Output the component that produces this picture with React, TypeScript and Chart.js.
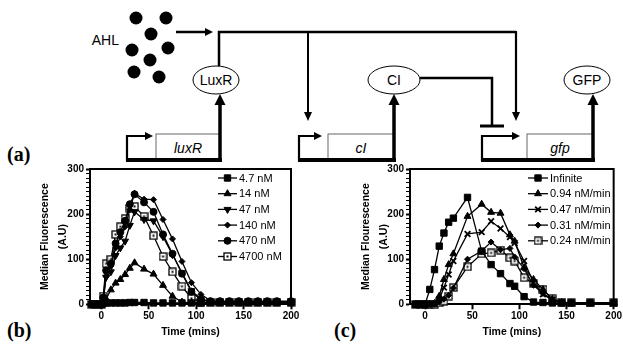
import React, { useEffect, useRef } from 'react';
import { Chart, registerables } from 'chart.js';
import { drawPoint } from 'chart.js/helpers';

Chart.register(...registerables);

// ---------- Data: panel (b) AHL concentration ----------
const timesB = [-10, -5, 0, 2, 5, 10, 15, 20, 25, 30, 35, 45, 55, 65, 75, 85, 95, 105, 115, 125, 135, 145, 155, 165, 175, 185, 200];
const labelsB = ['4.7 nM', '14 nM', '47 nM', '140 nM', '470 nM', '4700 nM'];
const b4_7 = [0, 0, 0, 2, 3, 3, 3, 3, 3, 4, 4, 4, 3, 3, 3, 3, 3, 3, 4, 4, 4, 4, 4, 4, 4, 4, 4];
const b14 = [0, 0, 0, 5, 12, 32, 47, 55, 66, 80, 92, 78, 67, 42, 18, 5, 3, 3, 3, 3, 3, 3, 3, 3, 3, 3, 3];
const b47 = [0, 0, 0, 10, 60, 72, 108, 125, 140, 175, 205, 188, 185, 150, 110, 70, 30, 12, 6, 5, 5, 5, 5, 5, 5, 5, 5];
const b140 = [0, 0, 0, 12, 62, 85, 125, 150, 172, 210, 246, 233, 232, 188, 145, 95, 48, 22, 8, 6, 6, 6, 6, 6, 6, 6, 6];
const b470 = [0, 0, 0, 15, 75, 90, 135, 160, 185, 222, 244, 226, 205, 155, 112, 68, 28, 10, 7, 7, 7, 7, 7, 7, 7, 7, 7];
const b4700 = [0, 0, 0, 18, 90, 100, 155, 172, 190, 213, 217, 195, 152, 106, 72, 40, 13, 5, 5, 5, 5, 5, 5, 5, 5, 5, 5];

// ---------- Data: panel (c) AHL ramp rate ----------
const timesC = [-10, -5, 0, 5, 10, 15, 20, 25, 30, 45, 60, 70, 80, 90, 95, 105, 115, 125, 135, 145, 155, 175, 200];
const labelsC = ['Infinite', '0.94 nM/min', '0.47 nM/min', '0.31 nM/min', '0.24 nM/min'];
const cInf = [0, 0, 0, 33, 77, 129, 158, 182, 191, 237, 118, 88, 68, 46, 40, 17, 5, 4, 3, 3, 3, 3, 3];
const c094 = [0, 0, 0, 0, 2, 18, 55, 88, 112, 195, 222, 204, 202, 154, 140, 81, 55, 33, 11, 4, 3, 3, 3];
const c047 = [0, 0, 0, 0, 1, 11, 37, 66, 96, 156, 160, 184, 168, 149, 136, 96, 48, 22, 10, 4, 3, 3, 3];
const c031 = [0, 0, 0, 0, 0, 5, 12, 20, 36, 100, 118, 138, 121, 124, 105, 79, 42, 24, 11, 4, 3, 3, 3];
const c024 = [0, 0, 0, 0, 0, 3, 7, 18, 37, 83, 112, 114, 120, 103, 96, 59, 46, 33, 12, 5, 3, 3, 3];

// axis ticks
const yMax = 300;
const yMajor = 100;
const yMinor = 10;
const xStep = 50;

const SANS = '"Liberation Sans", Arial, sans-serif';
const SERIF = '"Liberation Serif", "Times New Roman", serif';

function openSquare(): HTMLCanvasElement {
  const c = document.createElement('canvas');
  c.width = 9; c.height = 9;
  const g = c.getContext('2d')!;
  g.fillStyle = '#fff';
  g.fillRect(1, 1, 7, 7);
  g.strokeStyle = '#000';
  g.lineWidth = 1.3;
  g.strokeRect(1, 1, 7, 7);
  g.fillStyle = '#000';
  g.fillRect(3.5, 3.5, 2, 2);
  return c;
}

type Marker = { style: any; radius: number; rotation?: number; fill: string; bw: number };

function markersB(): Marker[] {
  const sq = openSquare();
  return [
    { style: 'rect', radius: 4.5, fill: '#000', bw: 1 },
    { style: 'triangle', radius: 4, fill: '#000', bw: 1 },
    { style: 'triangle', radius: 4, rotation: 180, fill: '#000', bw: 1 },
    { style: 'rectRot', radius: 3, fill: '#000', bw: 1 },
    { style: 'circle', radius: 3.5, fill: '#000', bw: 1 },
    { style: sq, radius: 4.5, fill: '#fff', bw: 1 },
  ];
}
function markersC(): Marker[] {
  const sq = openSquare();
  return [
    { style: 'rect', radius: 4.5, fill: '#000', bw: 1 },
    { style: 'triangle', radius: 4, fill: '#000', bw: 1 },
    { style: 'crossRot', radius: 4, fill: '#000', bw: 1.8 },
    { style: 'rectRot', radius: 3, fill: '#000', bw: 1 },
    { style: sq, radius: 4.5, fill: '#fff', bw: 1 },
  ];
}

const framePlugin = {
  id: 'frame',
  afterDatasetsDraw(chart: any) {
    const { ctx, chartArea: a } = chart;
    ctx.save();
    ctx.strokeStyle = '#000';
    ctx.lineWidth = 2;
    ctx.beginPath();
    ctx.moveTo(a.left, a.top);
    ctx.lineTo(a.right, a.top);
    ctx.lineTo(a.right, a.bottom);
    ctx.stroke();
    ctx.restore();
  },
};

const legendPlugin = {
  id: 'inlegend',
  afterDatasetsDraw(chart: any, _args: any, opts: any) {
    const { ctx } = chart;
    chart.data.datasets.forEach((ds: any, i: number) => {
      const y = opts.y0 + i * opts.dy;
      ctx.save();
      ctx.strokeStyle = '#000';
      ctx.lineWidth = 1.3;
      ctx.beginPath();
      ctx.moveTo(opts.x1, y);
      ctx.lineTo(opts.x2, y);
      ctx.stroke();
      ctx.fillStyle = ds.pointBackgroundColor;
      ctx.strokeStyle = '#000';
      ctx.lineWidth = ds.pointBorderWidth;
      drawPoint(ctx, {
        pointStyle: ds.pointStyle,
        rotation: ds.pointRotation || 0,
        radius: ds.pointRadius,
        borderWidth: ds.pointBorderWidth,
      } as any, (opts.x1 + opts.x2) / 2, y);
      ctx.fillStyle = '#000';
      ctx.font = `11px ${SANS}`;
      ctx.textBaseline = 'middle';
      ctx.textAlign = 'left';
      ctx.fillText(ds.label, opts.x2 + 2, y + 0.5);
      ctx.restore();
    });
  },
};

function makeConfig(times: number[], labels: string[], series: number[][], markers: Marker[], p: any): any {
  const datasets = series.map((vals, i) => ({
    label: labels[i],
    data: times.map((t, j) => ({ x: t, y: vals[j] })),
    borderColor: '#000',
    borderWidth: 1.3,
    pointStyle: markers[i].style,
    pointRadius: markers[i].radius,
    pointRotation: markers[i].rotation || 0,
    pointBackgroundColor: markers[i].fill,
    pointBorderColor: '#000',
    pointBorderWidth: markers[i].bw,
    tension: 0,
    clip: false,
  }));
  return {
    type: 'line',
    data: { datasets },
    options: {
      responsive: false,
      animation: false,
      events: [],
      layout: { padding: { left: 0, right: p.padRight, top: p.padTop, bottom: 0 } },
      plugins: {
        legend: { display: false },
        tooltip: { enabled: false },
        inlegend: p.legend,
      },
      scales: {
        x: {
          type: 'linear',
          min: p.xMin,
          max: 200,
          afterFit: (s: any) => { s.height = p.xHeight; },
          border: { color: '#000', width: 2 },
          grid: { drawOnChartArea: false, drawTicks: true, tickLength: 5, tickWidth: 2, tickColor: '#000' },
          ticks: {
            stepSize: xStep,
            includeBounds: false,
            autoSkip: false,
            maxRotation: 0,
            color: '#000',
            padding: 1,
            font: { family: SANS, size: 10, weight: 'bold' },
          },
          title: {
            display: true,
            text: 'Time (mins)',
            color: '#000',
            font: { family: SANS, size: 10.5, weight: 'bold', lineHeight: 1.2 },
            padding: { top: 0, bottom: p.xTitlePad },
          },
        },
        y: {
          type: 'linear',
          min: 0,
          max: yMax,
          afterFit: (s: any) => { s.width = p.yWidth; },
          border: { color: '#000', width: 2 },
          grid: {
            drawOnChartArea: false,
            drawTicks: true,
            tickLength: 4,
            tickColor: '#000',
            tickWidth: (c: any) => (c.tick && c.tick.value % yMajor === 0 ? 2 : 1),
          },
          ticks: {
            stepSize: yMinor,
            autoSkip: false,
            color: '#000',
            padding: 2,
            font: { family: SANS, size: 10, weight: 'bold' },
            callback: (v: any) => (v % yMajor === 0 ? String(v) : ''),
          },
          title: {
            display: true,
            text: [p.yTitle, '(A.U)'],
            color: '#000',
            font: { family: SANS, size: 10.5, weight: 'bold', lineHeight: 1.75 },
            padding: { top: p.yTitlePad, bottom: 0 },
          },
        },
      },
    },
    plugins: [framePlugin, legendPlugin],
  };
}

function ChartCanvas({ left, top, width, height, build }: any) {
  const ref = useRef<HTMLCanvasElement>(null);
  useEffect(() => {
    const chart = new Chart(ref.current!, build());
    return () => chart.destroy();
  }, []);
  return (
    <canvas
      ref={ref}
      width={width}
      height={height}
      style={{ position: 'absolute', left, top, width, height }}
    />
  );
}

function Arrow({ x1, y1, x2, y2, w, head, half }: any) {
  const dx = x2 - x1, dy = y2 - y1;
  const len = Math.hypot(dx, dy);
  const ux = dx / len, uy = dy / len;
  const bx = x2 - ux * head, by = y2 - uy * head;
  const px = -uy * half, py = ux * half;
  return (
    <g>
      <line x1={x1} y1={y1} x2={bx + ux} y2={by + uy} stroke="#000" strokeWidth={w} />
      <polygon points={`${x2},${y2} ${bx + px},${by + py} ${bx - px},${by - py}`} fill="#000" />
    </g>
  );
}

const genes = [
  { name: 'luxR', prom: 127, tip: 153, l: 156, r: 220, protein: 'LuxR', pcx: 216, prx: 23 },
  { name: 'cI', prom: 299, tip: 322, l: 328, r: 394, protein: 'CI', pcx: 394, prx: 26 },
  { name: 'gfp', prom: 482, tip: 520, l: 527, r: 593, protein: 'GFP', pcx: 587, prx: 23 },
];

const dots = [[136, 18], [166, 18], [151, 34], [132, 50], [168, 48], [150, 60], [134, 72], [159, 77]];

function Diagram() {
  return (
    <svg width={623} height={352} style={{ position: 'absolute', left: 0, top: 0 }}>
      <text x={119} y={45} textAnchor="end" fontFamily={SANS} fontSize={14}>AHL</text>
      {dots.map(([x, y], i) => <circle key={i} cx={x} cy={y} r={6.5} fill="#000" />)}
      <Arrow x1={176} y1={32} x2={213} y2={32} w={2.5} head={8} half={4} />
      <path d="M219,66 V32 H516" stroke="#000" strokeWidth={2.5} fill="none" />
      <Arrow x1={308} y1={32} x2={308} y2={121} w={2} head={9} half={4} />
      <Arrow x1={516} y1={31} x2={516} y2={121} w={2.2} head={9} half={4} />
      <path d="M420,78 H492 V126" stroke="#000" strokeWidth={2.5} fill="none" />
      <line x1={480} y1={126} x2={504} y2={126} stroke="#000" strokeWidth={3} />
      {genes.map((g) => (
        <g key={g.name}>
          <ellipse cx={g.pcx} cy={80} rx={g.prx} ry={14} fill="#fff" stroke="#000" strokeWidth={1} />
          <text x={g.pcx} y={85} textAnchor="middle" fontFamily={SANS} fontSize={14}>{g.protein}</text>
          <rect x={g.l} y={134} width={g.r - g.l} height={26} fill="#fff" stroke="#666" strokeWidth={1} />
          <text x={(g.l + g.r) / 2} y={152.5} textAnchor="middle" fontFamily={SANS} fontSize={14} fontStyle="italic">{g.name}</text>
          <line x1={g.prom - 1} y1={160} x2={g.r + 2} y2={160} stroke="#000" strokeWidth={4} />
          <path d={`M${g.prom},161 V136 H${g.tip - 7}`} stroke="#000" strokeWidth={2.2} fill="none" />
          <polygon points={`${g.tip},136 ${g.tip - 8},132 ${g.tip - 8},140`} fill="#000" />
          <Arrow x1={g.r} y1={161} x2={g.r} y2={94} w={3.5} head={11} half={5.5} />
        </g>
      ))}
      <text x={7} y={161} fontFamily={SERIF} fontWeight="bold" fontSize={20}>(a)</text>
      <text x={7} y={337} fontFamily={SERIF} fontWeight="bold" fontSize={20}>(b)</text>
      <text x={334} y={337} fontFamily={SERIF} fontWeight="bold" fontSize={20}>(c)</text>
    </svg>
  );
}

export default function App() {
  return (
    <div style={{ position: 'absolute', left: 0, top: 0, width: 623, height: 352, background: '#fff', overflow: 'hidden' }}>
      <Diagram />
      <ChartCanvas
        left={0}
        top={160}
        width={310}
        height={190}
        build={() =>
          makeConfig(timesB, labelsB, [b4_7, b14, b47, b140, b470, b4700], markersB(), {
            padRight: 19,
            padTop: 9,
            xMin: -12,
            xHeight: 45.7,
            xTitlePad: 12,
            yWidth: 90,
            yTitlePad: 36,
            yTitle: 'Median Fluorescence',
            legend: { x1: 218, x2: 237, y0: 18, dy: 15.7 },
          })
        }
      />
      <ChartCanvas
        left={310}
        top={160}
        width={313}
        height={190}
        build={() =>
          makeConfig(timesC, labelsC, [cInf, c094, c047, c031, c024], markersC(), {
            padRight: 9,
            padTop: 9,
            xMin: -16,
            xHeight: 45.7,
            xTitlePad: 12,
            yWidth: 100,
            yTitlePad: 47,
            yTitle: 'Median Flourescence',
            legend: { x1: 218, x2: 238, y0: 18, dy: 15.7 },
          })
        }
      />
    </div>
  );
}
